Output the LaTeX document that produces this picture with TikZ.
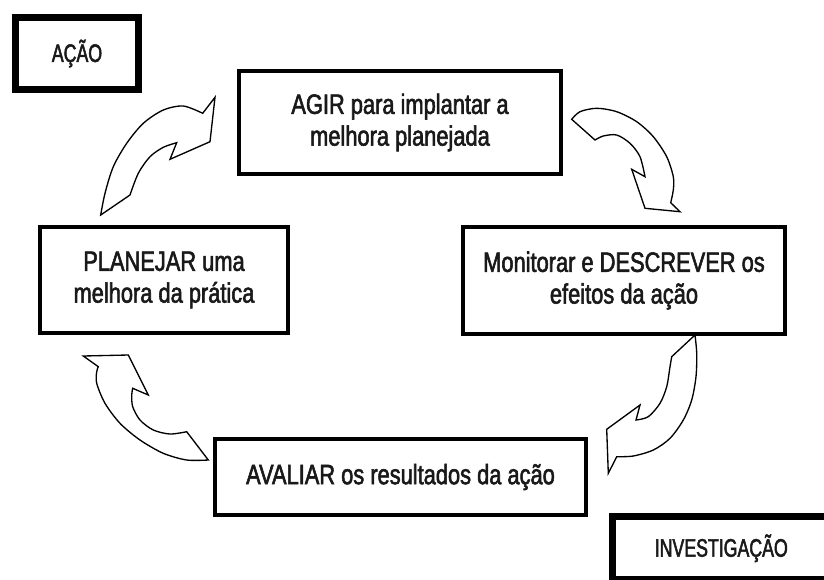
\documentclass[tikz,border=0pt]{standalone}
\usepackage{fontspec}
\usepackage{tikz}
\newfontfamily\stagefont[FakeStretch=0.78,FakeBold=2]{Liberation Sans}
\newfontfamily\tagfont[FakeStretch=0.7,FakeBold=2]{Liberation Sans}

\tikzset{
  stage/.style={draw=black, line width=3pt, fill=white, inner sep=0pt, align=center,
    text=black!90, font={\stagefont\fontsize{21pt}{23.8pt}\selectfont}},
  tag/.style={draw=black, line width=5.25pt, fill=white, inner sep=0pt, align=center,
    text=black!90, font={\tagfont\fontsize{19pt}{21pt}\selectfont}},
  bentarrow/.style={draw=black, line width=1pt, fill=white, line join=miter}
}

\begin{document}
\begin{tikzpicture}[x=0.75pt,y=0.75pt,yscale=-1,xscale=1]
\useasboundingbox (0,0) rectangle (824,579);
\clip (0,0) rectangle (824,579);

% Tag boxes
\node [tag, minimum width=92.25pt, minimum height=54pt] (acao) at (77,53.5) {AÇÃO};
\node [tag, minimum width=163.1pt, minimum height=47.6pt] (investigacao) at (721.25,548.25) {INVESTIGAÇÃO};

% Stage boxes
\node [stage, minimum width=241.5pt, minimum height=77.25pt] (agir) at (400,122.5) {AGIR para implantar a\\melhora planejada};
\node [stage, minimum width=241.5pt, minimum height=80.25pt] (monitorar) at (624,280.5) {Monitorar e DESCREVER os\\efeitos da ação};
\node [stage, minimum width=278.25pt, minimum height=57pt] (avaliar) at (400.5,477) {AVALIAR os resultados da ação};
\node [stage, minimum width=186pt, minimum height=79.5pt] (planejar) at (164,280) {PLANEJAR uma\\melhora da prática};

%Curved Arrow: planejar to agir
\draw [bentarrow] (100.7,215) -- (130,195)
  -- plot [smooth] coordinates {(130,195) (138.3,173.3) (150,156.7) (163.3,147.3) (176.7,142.7)}
  -- (170,159.3) -- (210,141.7) -- (215,97.3) -- (202.7,113.3)
  -- plot [smooth] coordinates {(202.7,113.3) (183.3,106) (163.3,110) (143.3,123.3) (126.7,143.3) (113.3,166.7) (105,193.3) (100.7,215)}
  -- cycle;
%Curved Arrow: agir to monitorar
\draw [bentarrow] (571.7,119.3) -- (595,140)
  -- plot [smooth] coordinates {(595,140) (603.3,136) (616.7,135) (630,143.3) (640,156.7) (645,176.7)}
  -- (631.7,169.3) -- (645,208.3) -- (680,211.7) -- (670.7,202.7)
  -- plot [smooth] coordinates {(670.7,202.7) (673.3,190) (673.3,176.7) (666.7,156.7) (653.3,136.7) (636.7,121.7) (616.7,111.7) (596.7,108.3) (580,111.7) (571.7,119.3)}
  -- cycle;
%Curved Arrow: monitorar to avaliar
\draw [bentarrow] (695,335) -- (671.7,356.7)
  -- plot [smooth] coordinates {(671.7,356.7) (670,366.7) (666.7,386.7) (660,403.3) (648.3,416.7) (636,420)}
  -- (640,405) -- (606.7,429.3) -- (608.3,473.3) -- (616.7,456.7)
  -- plot [smooth] coordinates {(616.7,456.7) (633.3,456) (653.3,450) (670,438.3) (683.3,420) (691.7,400) (696,376.7) (696.7,353.3) (695,335)}
  -- cycle;
%Curved Arrow: avaliar to planejar
\draw [bentarrow] (208.3,460) -- (186.7,431.7)
  -- plot [smooth] coordinates {(186.7,431.7) (170,434) (153.3,430) (140,420) (132.7,406.7) (131.7,395) (132.7,388.3)}
  -- (148.3,395) -- (128.3,355) -- (83.3,356) -- (98.3,366.7)
  -- plot [smooth] coordinates {(98.3,366.7) (96.7,371.7) (96.7,383.3) (105,403.3) (120,423.3) (140,440) (163.3,453.3) (186.7,460) (208.3,460)}
  -- cycle;

\end{tikzpicture}
\end{document}
